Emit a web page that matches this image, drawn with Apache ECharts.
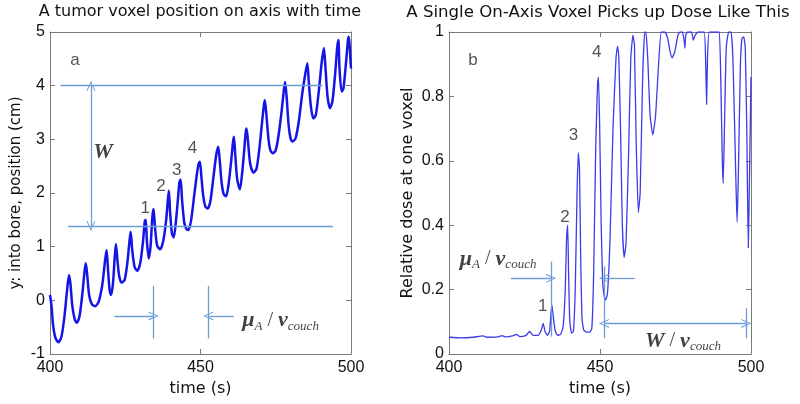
<!DOCTYPE html>
<html>
<head>
<meta charset="utf-8">
<script src="https://cdn.jsdelivr.net/npm/echarts@6/dist/echarts.min.js"></script>
<style>
html,body{margin:0;padding:0;background:#fff;}
#c{width:800px;height:404px;}
</style>
</head>
<body>
<div id="c"></div>
<script>
// ---------- DATA ----------
const positionTime = [400.0,400.5,401.0,401.8,402.8,403.8,404.8,405.6,406.3,406.8,407.4,408.2,408.9,409.8,410.8,411.5,411.9,412.4,413.0,413.9,415.0,416.2,417.4,418.3,418.8,419.3,419.8,420.3,420.9,421.5,421.9,422.4,423.0,423.8,424.8,425.7,426.4,426.8,427.3,428.1,429.0,430.0,430.9,431.5,431.8,432.2,432.8,433.4,434.0,434.4,434.9,435.6,436.6,437.6,438.6,439.2,439.5,439.9,440.5,441.1,441.8,442.6,443.0,443.4,443.9,444.6,445.3,446.0,446.9,447.9,448.8,449.4,449.8,450.3,450.9,451.6,452.4,453.3,454.2,455.2,455.9,456.4,457.0,457.7,458.5,459.3,460.2,460.8,461.1,461.5,462.2,463.1,463.8,464.6,465.0,465.3,465.8,466.5,467.6,468.6,469.6,470.6,471.1,471.4,471.9,472.6,473.2,474.0,475.0,476.0,477.0,477.7,478.1,478.6,479.3,480.0,480.6,481.6,482.7,483.8,484.9,485.5,486.0,486.7,487.5,488.3,489.3,490.3,491.0,491.5,492.2,493.0,493.8,494.7,495.4,495.8,496.2,496.9,497.5,498.3,499.0,499.3,499.7,500.0];
const positionValue = [0.10,-0.10,-0.45,-0.70,-0.78,-0.68,-0.30,0.15,0.47,0.30,-0.10,-0.35,-0.42,-0.30,0.15,0.55,0.69,0.45,0.10,-0.07,-0.11,-0.02,0.30,0.75,0.94,0.55,0.20,0.10,0.30,0.80,1.05,0.75,0.45,0.33,0.38,0.70,1.10,1.28,0.95,0.62,0.55,0.70,1.10,1.48,1.50,1.10,0.78,1.00,1.55,1.70,1.35,1.02,0.95,1.10,1.50,1.90,2.04,1.65,1.25,1.17,1.45,1.95,2.20,2.25,1.85,1.45,1.33,1.31,1.50,1.95,2.35,2.55,2.58,2.30,1.95,1.75,1.71,1.85,2.25,2.70,2.86,2.60,2.20,1.98,1.94,2.15,2.60,2.95,3.05,2.75,2.25,2.07,2.35,2.85,3.12,3.20,2.95,2.55,2.38,2.45,2.85,3.40,3.65,3.73,3.45,3.00,2.80,2.74,2.80,3.10,3.55,3.92,4.07,3.80,3.25,3.00,2.96,3.02,3.35,3.85,4.25,4.42,4.05,3.60,3.39,3.45,3.90,4.45,4.70,4.35,3.80,3.58,3.70,4.20,4.70,4.85,4.30,3.89,3.95,4.40,4.85,4.91,4.60,4.32];

const doseTime = [400.0,404.0,408.0,411.3,412.5,416.0,417.6,418.8,421.0,422.3,423.5,425.5,426.7,427.8,429.5,430.6,431.2,431.8,432.6,433.3,433.8,434.1,434.6,435.2,436.0,437.0,437.8,438.5,438.9,439.3,439.6,440.0,440.6,441.2,441.8,442.4,442.8,443.2,443.6,444.0,444.6,445.5,446.6,447.3,447.9,448.6,449.2,449.5,449.9,450.4,450.9,451.4,451.9,452.5,453.3,454.3,455.3,455.8,456.2,456.8,457.4,458.0,458.6,459.4,460.2,460.9,461.4,462.0,462.7,463.3,464.1,464.8,465.2,465.8,466.6,467.5,468.4,469.4,470.3,471.5,472.4,473.2,473.9,474.8,475.8,476.5,477.3,477.9,478.1,478.4,479.0,480.3,480.9,481.5,482.5,484.5,485.0,485.3,485.6,486.2,488.5,489.5,490.0,490.5,490.8,491.2,491.8,492.6,493.4,494.0,494.6,495.1,495.4,495.8,496.5,497.0,497.6,498.1,498.6,499.1,499.5,500.0];
const doseValue = [0.052,0.050,0.052,0.056,0.052,0.053,0.057,0.053,0.056,0.061,0.054,0.058,0.070,0.058,0.058,0.075,0.095,0.070,0.058,0.070,0.130,0.152,0.110,0.070,0.058,0.062,0.085,0.20,0.35,0.40,0.25,0.10,0.065,0.07,0.20,0.50,0.625,0.58,0.30,0.12,0.075,0.068,0.068,0.080,0.25,0.65,0.84,0.86,0.70,0.40,0.22,0.18,0.168,0.19,0.35,0.70,0.92,0.955,0.93,0.70,0.40,0.30,0.34,0.60,0.92,0.99,0.96,0.65,0.44,0.50,0.85,1.0,1.0,0.92,0.74,0.68,0.74,0.90,1.0,1.0,0.98,0.94,0.92,0.94,0.99,1.0,1.0,0.97,0.95,0.99,1.0,1.0,0.975,0.99,1.0,1.0,0.90,0.775,0.92,1.0,1.0,1.0,0.85,0.60,0.53,0.70,0.95,1.0,1.0,0.92,0.70,0.50,0.41,0.55,0.90,0.98,0.985,0.95,0.70,0.33,0.55,0.86];

const timeTicks = {min: 400, max: 500, step: 50};
const positionTicks = {min: -1, max: 5, step: 1};
const doseTicks = {min: 0, max: 1, step: 0.2};

// annotation geometry, in data units of each panel
const leftGuideLines = [[[403.5, 4.0], [490.5, 4.0]], [[406, 1.385], [494, 1.385]]];
const leftWArrow = [[413.6, 1.385], [413.6, 4.0]];
const leftMarkers = [[[434.4, 0.27], [434.4, -0.71]], [[452.6, 0.27], [452.6, -0.71]]];
const leftPointers = [[[421.4, -0.29], [434.4, -0.29]], [[461.1, -0.29], [452.6, -0.29]]];
const leftTexts = [['a', 408.3, 4.48], ['1', 431.6, 1.72], ['2', 436.9, 2.12], ['3', 442.1, 2.43], ['4', 447.3, 2.83]];

const rightMarkers = [[[433.8, 0.287], [433.8, 0.054]], [[451.3, 0.272], [451.3, 0.049]], [[498.4, 0.142], [498.4, 0.049]]];
const rightPointers = [[[420.5, 0.235], [433.8, 0.235]], [[461.5, 0.235], [451.3, 0.235]]];
const rightWArrow = [[451.3, 0.095], [498.4, 0.095]];
const rightTexts = [['b', 407.9, 0.913], ['1', 431.0, 0.149], ['2', 438.4, 0.426], ['3', 441.2, 0.68], ['4', 448.9, 0.938]];

// ---------- CHART ----------
const chart = echarts.init(document.getElementById('c'), null, {renderer: 'canvas'});
const zip = (a, b) => a.map((x, i) => [x, b[i]]);
const annoColor = '#6b9dd6';
const boxColor = '#7a7a7a';
const sans = 'Liberation Sans, Arial, sans-serif';
const dv = '"DejaVu Sans", Verdana, sans-serif';
const serif = 'Liberation Serif, Times New Roman, serif';
const chev = 'path://M0,12 L6,0 L12,12 L10.6,12 L6,2.8 L1.4,12 Z';

function xAx(grid, pos, labels, name) {
  return {
    type: 'value', gridIndex: grid, position: pos,
    min: timeTicks.min, max: timeTicks.max, interval: timeTicks.step,
    name: name || '', nameLocation: 'middle', nameGap: 25,
    nameTextStyle: {fontFamily: dv, fontSize: 16, color: '#111'},
    axisLine: {show: true, onZero: false, lineStyle: {color: boxColor, width: 1}},
    axisTick: {show: true, inside: true, length: 5, lineStyle: {color: boxColor}},
    axisLabel: {show: labels, fontFamily: sans, fontSize: 16, color: '#111', margin: 6},
    splitLine: {show: false}
  };
}
function yAx(grid, pos, labels, ticks, name, gap, nameSize) {
  return {
    type: 'value', gridIndex: grid, position: pos,
    min: ticks.min, max: ticks.max, interval: ticks.step,
    name: name || '', nameLocation: 'middle', nameGap: gap || 30,
    nameTextStyle: {fontFamily: dv, fontSize: nameSize || 15, color: '#111'},
    axisLine: {show: true, onZero: false, lineStyle: {color: boxColor, width: 1}},
    axisTick: {show: true, inside: true, length: 5, lineStyle: {color: boxColor}},
    axisLabel: {show: labels, fontFamily: sans, fontSize: 16, color: '#111', margin: 5},
    splitLine: {show: false}
  };
}

function seg(pair, s1, s2) {
  return [{coord: pair[0], symbol: s1 || 'none'}, {coord: pair[1], symbol: s2 || 'none'}];
}

const mathRich = {
  b: {fontFamily: serif, fontStyle: 'italic', fontWeight: 'bold', fontSize: 22, color: '#111', verticalAlign: 'middle', lineHeight: 24},
  sub: {fontFamily: serif, fontStyle: 'italic', fontSize: 13, color: '#111', verticalAlign: 'bottom', lineHeight: 22},
  sl: {fontFamily: serif, fontSize: 20, color: '#111', verticalAlign: 'middle', lineHeight: 24}
};

const option = {
  backgroundColor: '#fff',
  animation: false,
  graphic: [
    {type: 'text', x: 200, y: 4, style: {text: 'A tumor voxel position on axis with time', font: '16px ' + dv, fill: '#111', align: 'center'}},
    {type: 'text', x: 598, y: 4, style: {text: 'A Single On-Axis Voxel Picks up Dose Like This', font: '16.6px ' + dv, fill: '#111', align: 'center'}}
  ],
  grid: [
    {left: 50, top: 32, width: 301, height: 322, containLabel: false},
    {left: 449, top: 32, width: 302, height: 322, containLabel: false}
  ],
  xAxis: [
    xAx(0, 'bottom', true, 'time (s)'),
    xAx(0, 'top', false),
    xAx(1, 'bottom', true, 'time (s)'),
    xAx(1, 'top', false)
  ],
  yAxis: [
    yAx(0, 'left', true, positionTicks, 'y: into bore, position (cm)', 26, 15),
    yAx(0, 'right', false, positionTicks),
    yAx(1, 'left', true, doseTicks, 'Relative dose at one voxel', 33, 16),
    yAx(1, 'right', false, doseTicks)
  ],
  series: [
    {
      type: 'line', xAxisIndex: 0, yAxisIndex: 0, data: zip(positionTime, positionValue),
      showSymbol: false, smooth: 0.25, lineStyle: {color: '#1414e6', width: 2.5}, silent: true,
      markLine: {
        silent: true, symbol: ['none', 'none'], symbolSize: [9, 10], animation: false,
        label: {show: false}, lineStyle: {color: annoColor, width: 1.3, type: 'solid'},
        data: [
          seg(leftGuideLines[0]), seg(leftGuideLines[1]),
          seg(leftWArrow, chev, chev),
          seg(leftMarkers[0]), seg(leftMarkers[1]),
          seg(leftPointers[0], 'none', chev), seg(leftPointers[1], 'none', chev)
        ]
      }
    },
    {
      type: 'line', xAxisIndex: 2, yAxisIndex: 2, data: zip(doseTime, doseValue),
      showSymbol: false, smooth: 0.15, lineStyle: {color: '#3b3bea', width: 1.3}, silent: true,
      markLine: {
        silent: true, symbol: ['none', 'none'], symbolSize: [9, 10], animation: false,
        label: {show: false}, lineStyle: {color: annoColor, width: 1.3, type: 'solid'},
        data: [
          seg(rightMarkers[0]), seg(rightMarkers[1]), seg(rightMarkers[2]),
          seg(rightPointers[0], 'none', chev), seg(rightPointers[1], 'none', chev),
          seg(rightWArrow, chev, chev)
        ]
      }
    },
    {
      type: 'scatter', xAxisIndex: 0, yAxisIndex: 0, symbolSize: 0, silent: true,
      data: leftTexts.map(d => ({value: [d[1], d[2]], name: d[0]})),
      label: {show: true, position: 'inside', formatter: p => p.name, fontFamily: sans, fontSize: 17, color: '#2a2a2a'}
    },
    {
      type: 'scatter', xAxisIndex: 2, yAxisIndex: 2, symbolSize: 0, silent: true,
      data: rightTexts.map(d => ({value: [d[1], d[2]], name: d[0]})),
      label: {show: true, position: 'inside', formatter: p => p.name, fontFamily: sans, fontSize: 17, color: '#2a2a2a'}
    },
    {
      type: 'scatter', xAxisIndex: 0, yAxisIndex: 0, symbolSize: 0, silent: true,
      data: [
        {value: [417.6, 2.76], name: 'W', label: {position: 'inside', formatter: '{b|W}'}},
        {value: [463.9, -0.38], name: 'mu', label: {position: 'right', distance: 0, formatter: '{b|μ}{sub|A}{sl| / }{b|ν}{sub|couch}'}}
      ],
      label: {show: true, rich: mathRich}
    },
    {
      type: 'scatter', xAxisIndex: 2, yAxisIndex: 2, symbolSize: 0, silent: true,
      data: [
        {value: [403.6, 0.295], name: 'mu', label: {position: 'right', distance: 0, formatter: '{b|μ}{sub|A}{sl| / }{b|ν}{sub|couch}'}},
        {value: [464.9, 0.04], name: 'W', label: {position: 'right', distance: 0, formatter: '{b|W}{sl| / }{b|ν}{sub|couch}'}}
      ],
      label: {show: true, rich: mathRich}
    }
  ]
};
chart.setOption(option);
</script>
</body>
</html>
